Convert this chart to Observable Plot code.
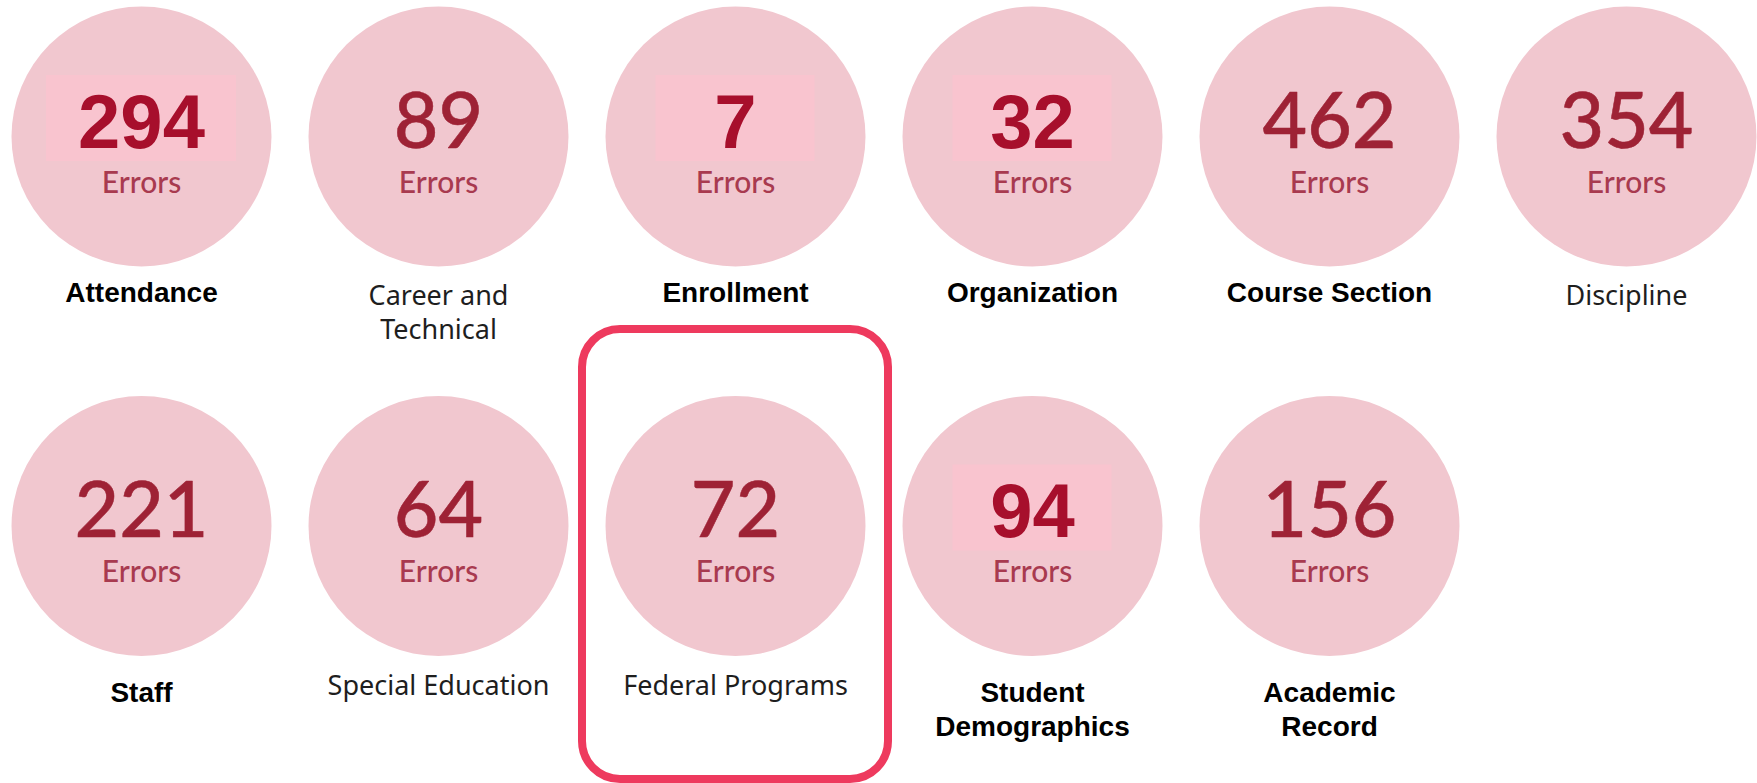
<!DOCTYPE html>
<html>
<head>
<meta charset="utf-8">
<script src="https://cdn.jsdelivr.net/npm/d3@7"></script>
<script src="https://cdn.jsdelivr.net/npm/@observablehq/plot@0.6"></script>
<style>
  html, body { margin: 0; padding: 0; background: #ffffff; }
  #chart svg { display: block; }
</style>
</head>
<body>
<div id="chart"></div>
<script>
// ---- data ----
const categories = ["Attendance", "Career and\nTechnical", "Enrollment", "Organization", "Course Section", "Discipline",
                    "Staff", "Special Education", "Federal Programs", "Student\nDemographics", "Academic\nRecord"];
const errors = [294, 89, 7, 32, 462, 354, 221, 64, 72, 94, 156];
const rows = [0, 0, 0, 0, 0, 0, 1, 1, 1, 1, 1];
const cols = [0, 1, 2, 3, 4, 5, 0, 1, 2, 3, 4];
const highlighted = [true, false, true, true, false, false, false, false, false, true, false];
const boldLabel = [true, false, true, true, true, false, true, false, false, true, true];
const selectedCategory = "Federal Programs";
const unitLabel = "Errors";

const table = categories.map((c, i) => ({
  category: c, errors: errors[i], row: rows[i], col: cols[i],
  hi: highlighted[i], bold: boldLabel[i]
}));

// ---- layout (scales) ----
const W = 1757, H = 783;
const xRange = [141, 1626], yRange = [136, 525.5];
const colStep = (xRange[1] - xRange[0]) / 5;
const rowStep = yRange[1] - yRange[0];
const px = v => v / colStep;   // pixel length -> x units
const py = v => v / rowStep;   // pixel length -> y units

const circleFill = "#f1c7cf";
const hiFill = "#f9c4cf";

const plot = Plot.plot({
  width: W, height: H,
  margin: 0,
  x: {domain: [0, 5], range: xRange, axis: null},
  y: {domain: [0, 1], range: yRange, axis: null},
  marks: [
    // selection frame
    Plot.rect(table.filter(d => d.category === selectedCategory), {
      x1: d => d.col - px(153), x2: d => d.col + px(153),
      y1: d => d.row - py(196.5), y2: d => d.row + py(253.5),
      fill: "none", stroke: "#ee3a5e", strokeWidth: 8, rx: 38
    }),
    // circles
    Plot.dot(table, {x: "col", y: "row", r: 130, fill: circleFill, stroke: "none"}),
    // highlight boxes behind numbers
    Plot.rect(table.filter(d => d.hi), {
      x1: d => d.col - px(String(d.errors).length > 2 ? 95 : 79.5),
      x2: d => d.col + px(String(d.errors).length > 2 ? 95 : 79.5),
      y1: d => d.row - py(61), y2: d => d.row + py(25),
      fill: hiFill
    }),
    // numbers (regular)
    Plot.text(table.filter(d => !d.hi), {
      x: "col", y: "row", text: d => String(d.errors),
      lineAnchor: "bottom", dy: 11,
      fontFamily: "Lato", fontWeight: 500, fontSize: 77, fill: "#9e2235",
      stroke: "#9e2235", strokeWidth: 0.5
    }),
    // numbers (highlighted)
    Plot.text(table.filter(d => d.hi), {
      x: "col", y: "row", text: d => String(d.errors),
      lineAnchor: "bottom", dy: 11,
      fontFamily: "Liberation Sans", fontWeight: "bold", fontSize: 76, fill: "#a70f2c"
    }),
    // "Errors"
    Plot.text(table, {
      x: "col", y: "row", text: () => unitLabel,
      lineAnchor: "bottom", dy: 56,
      fontFamily: "Lato", fontWeight: 500, fontSize: 30, fill: "#a83a4f"
    }),
    // category labels, bold style
    Plot.text(table.filter(d => d.bold && d.row === 0), {
      x: "col", y: "row", text: "category", lineAnchor: "top", dy: 141, lineHeight: 1.22,
      fontFamily: "Liberation Sans", fontWeight: "bold", fontSize: 28, fill: "#000000"
    }),
    Plot.text(table.filter(d => d.bold && d.row === 1), {
      x: "col", y: "row", text: "category", lineAnchor: "top", dy: 152, lineHeight: 1.22,
      fontFamily: "Liberation Sans", fontWeight: "bold", fontSize: 28, fill: "#000000"
    }),
    // category labels, regular style
    Plot.text(table.filter(d => !d.bold && d.row === 0), {
      x: "col", y: "row", text: "category", lineAnchor: "top", dy: 145, lineHeight: 1.25,
      fontFamily: "Noto Sans", fontSize: 27, fill: "#1e1e1e"
    }),
    Plot.text(table.filter(d => !d.bold && d.row === 1), {
      x: "col", y: "row", text: "category", lineAnchor: "top", dy: 145, lineHeight: 1.25,
      fontFamily: "Noto Sans", fontSize: 27, fill: "#1e1e1e"
    })
  ]
});

document.getElementById("chart").appendChild(plot);
</script>
</body>
</html>
